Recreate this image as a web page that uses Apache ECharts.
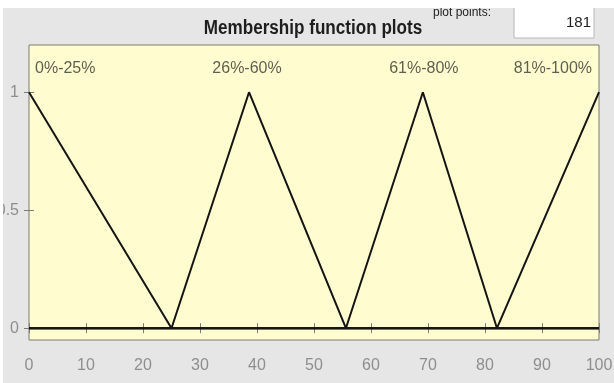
<!DOCTYPE html>
<html>
<head>
<meta charset="utf-8">
<script src="https://cdn.jsdelivr.net/npm/echarts@6/dist/echarts.min.js"></script>
<style>
html,body{margin:0;padding:0;background:#e6e6e6;}
#chart{width:614px;height:383px;}
</style>
</head>
<body>
<div id="chart"></div>
<script>
// ---- data ----
const xTicks = [0, 10, 20, 30, 40, 50, 60, 70, 80, 90, 100];
const yTickValues = [0, 0.5, 1];
const yTickLabels = ['0', '0.5', '1'];
const mfNames = ['0%-25%', '26%-60%', '61%-80%', '81%-100%'];
const mfPeaks = [0, 38.6, 69.1, 100];
const mf1 = [[0, 1], [25, 0], [100, 0]];
const mf2 = [[0, 0], [25, 0], [38.6, 1], [55.6, 0], [100, 0]];
const mf3 = [[0, 0], [55.6, 0], [69.1, 1], [82.1, 0], [100, 0]];
const mf4 = [[0, 0], [82.1, 0], [100, 1]];
const titleText = 'Membership function plots';
const plotPointsLabel = 'plot points:';
const plotPointsValue = '181';

const FONT = "'Liberation Sans', Arial, sans-serif";
const chart = echarts.init(document.getElementById('chart'), null, {renderer: 'canvas'});

const lineStyle = {color: '#141414', width: 2};
function mfSeries(name, data) {
  return {
    name: name, type: 'line', data: data, symbol: 'none',
    lineStyle: lineStyle, silent: true, animation: false, z: 5
  };
}
const labelAligns = ['left', 'center', 'center', 'right'];
const labelOffsets = [[6, 0], [-2, 0], [1, 0], [-7, 0]];

const option = {
  backgroundColor: '#e6e6e6',
  animation: false,
  grid: {
    left: 29, right: 15, top: 45, bottom: 43,
    outerBoundsMode: 'none', containLabel: false,
    show: true, backgroundColor: '#fffdd0', borderColor: '#7c7c72', borderWidth: 1
  },
  xAxis: [{
    type: 'value', min: 0, max: 100, interval: 10, position: 'bottom',
    axisLine: {show: false}, splitLine: {show: false},
    axisTick: {show: true, inside: true, length: 5, lineStyle: {color: '#7c7c72'}},
    axisLabel: {color: '#8e8e8e', fontSize: 16, fontFamily: FONT, margin: 18,
      formatter: v => xTicks.indexOf(v) >= 0 ? String(v) : ''}
  }, {
    type: 'value', min: 0, max: 100, interval: 10, position: 'top',
    axisLine: {show: false}, splitLine: {show: false},
    axisTick: {show: true, inside: true, length: 5, lineStyle: {color: '#7c7c72'}},
    axisLabel: {show: false}
  }],
  yAxis: [{
    type: 'value', min: -0.05, max: 1.2, position: 'left',
    axisLine: {show: false}, splitLine: {show: false},
    axisTick: {show: true, inside: true, length: 5, customValues: yTickValues, lineStyle: {color: '#7c7c72'}},
    axisLabel: {color: '#8e8e8e', fontSize: 16, fontFamily: FONT, margin: 10,
      customValues: yTickValues,
      formatter: v => yTickLabels[yTickValues.indexOf(v)]}
  }, {
    type: 'value', min: -0.05, max: 1.2, position: 'right',
    axisLine: {show: false}, splitLine: {show: false},
    axisTick: {show: true, inside: true, length: 5, customValues: yTickValues, lineStyle: {color: '#7c7c72'}},
    axisLabel: {show: false}
  }],
  series: [
    mfSeries(mfNames[0], mf1),
    mfSeries(mfNames[1], mf2),
    mfSeries(mfNames[2], mf3),
    mfSeries(mfNames[3], mf4),
    {
      name: 'labels', type: 'scatter', symbolSize: 0, silent: true, z: 6,
      data: mfNames.map((n, i) => ({
        value: [mfPeaks[i], 1.1],
        label: {
          show: true, position: 'inside', formatter: n, align: labelAligns[i],
          offset: labelOffsets[i], verticalAlign: 'middle',
          color: '#36362e', fontSize: 16, fontFamily: FONT
        }
      }))
    }
  ],
  graphic: [
    {type: 'rect', shape: {x: 514, y: -2, width: 80, height: 40}, style: {fill: '#ffffff', stroke: '#b8b8b8', lineWidth: 1}, z: 10},
    {type: 'text', x: 591, y: 23, style: {text: plotPointsValue, fill: '#222', fontSize: 15, fontFamily: FONT, align: 'right', verticalAlign: 'middle'}, z: 11},
    {type: 'text', x: 433, y: 13, style: {text: plotPointsLabel, fill: '#222', fontSize: 12, fontFamily: FONT, align: 'left', verticalAlign: 'middle'}, z: 11},
    {type: 'text', x: 313, y: 28, scaleX: 0.9, scaleY: 1.1, style: {text: titleText, fill: '#1e1e1e', fontSize: 19, fontWeight: 'bold', fontFamily: FONT, align: 'center', verticalAlign: 'middle'}, z: 11},
    {type: 'rect', shape: {x: 0, y: 0, width: 614, height: 8}, style: {fill: '#ffffff'}, z: 20},
    {type: 'rect', shape: {x: 0, y: 0, width: 3, height: 383}, style: {fill: '#ffffff'}, z: 20}
  ]
};
chart.setOption(option);
</script>
</body>
</html>
